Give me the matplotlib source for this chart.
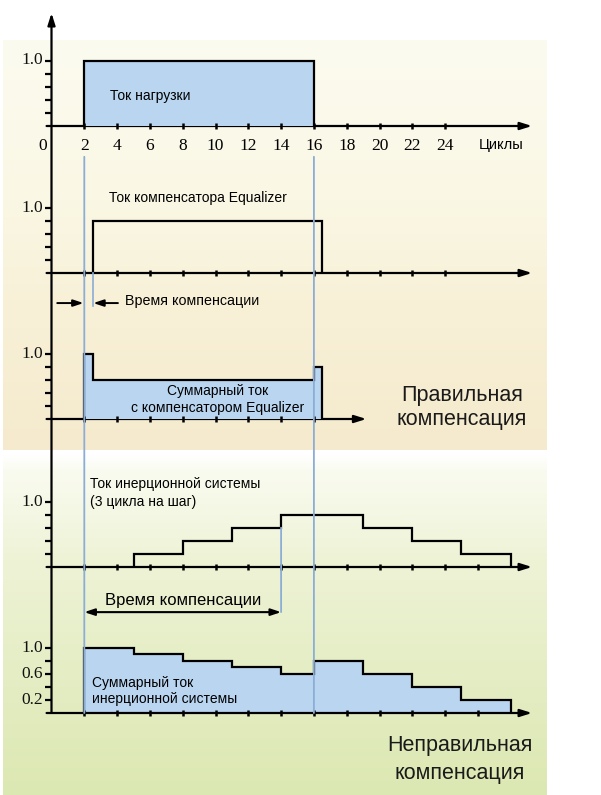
import numpy as np
import matplotlib
matplotlib.use("Agg")
import matplotlib.pyplot as plt
from matplotlib.patches import ConnectionPatch

# --- data (cycles on x, current in units of load current on y) ---
ticks_short = [2, 4, 6, 8, 10, 12, 14, 16, 18, 20, 22, 24]
ticks_long = [2, 4, 6, 8, 10, 12, 14, 16, 18, 20, 22, 24, 26]
ticks_eq_sum = [2, 4, 6, 8, 10, 12, 14, 16]
y_tick_vals = [0.2, 0.4, 0.6, 0.8, 1.0]

load_edges = [2, 16]
load_vals = [1.0]

eq_edges = [2.5, 16.5]
eq_vals = [0.8]

sum_eq_edges = [2, 2.5, 16, 16.5]
sum_eq_vals = [1.0, 0.6, 0.8]

inert_edges = [5, 8, 11, 14, 19, 22, 25, 28]
inert_vals = [0.2, 0.4, 0.6, 0.8, 0.6, 0.4, 0.2]

sum_in_edges = [2, 5, 8, 11, 14, 16, 19, 22, 25, 28]
sum_in_vals = [1.0, 0.9, 0.8, 0.7, 0.6, 0.8, 0.6, 0.4, 0.2]

comp_eq = (2, 2.5)      # compensation time, Equalizer
comp_inert = (2, 14)    # compensation time, inertial system
load_on_off = (2, 16)

# --- layout ---
W, H = 601, 795
X0, PX_CYC, PX_UNIT = 51.5, 16.4, 65.5
XMAX = 30
YLO, YHI = -1.0, 1.9
baselines = [126, 273, 419, 567, 713]

SERIF = "Liberation Serif"
SANS = "Liberation Sans"
FILL = "#b9d5f0"
BLUE = "#8badd6"

fig = plt.figure(figsize=(W / 100, H / 100), dpi=100)

# background bands
bg = fig.add_axes([0, 0, 1, 1], zorder=-5)
bg.set_xlim(0, W)
bg.set_ylim(H, 0)
bg.axis("off")


def gradient(stops, cols, y0, y1):
    rows = np.arange(y0, y1)
    cols = np.array(cols, dtype=float) / 255
    img = np.stack([np.interp(rows, stops, cols[:, k]) for k in range(3)], axis=1)
    return img[:, None, :]


top_img = gradient([40, 200, 300, 450],
                   [(252, 251, 240), (250, 247, 228), (248, 241, 216), (245, 234, 205)], 40, 450)
bot_img = gradient([455, 470, 560, 680, 795],
                   [(255, 255, 255), (250, 251, 240), (238, 243, 214), (228, 237, 195), (220, 232, 178)],
                   455, 795)
bg.imshow(top_img, extent=[3, 547, 450, 40], aspect="auto", interpolation="bilinear")
bg.imshow(bot_img, extent=[3, 547, 795, 455], aspect="auto", interpolation="bilinear")


def panel(base):
    left = X0 / W
    width = XMAX * PX_CYC / W
    bottom = 1 - (base - YLO * PX_UNIT) / H
    height = (YHI - YLO) * PX_UNIT / H
    ax = fig.add_axes([left, bottom, width, height])
    ax.set_xlim(0, XMAX)
    ax.set_ylim(YLO, YHI)
    ax.axis("off")
    return ax


def x_axis(ax, end, ticks, z=1):
    ax.annotate("", xy=(end, 0), xytext=(-0.3, 0), annotation_clip=False, zorder=z,
                arrowprops=dict(arrowstyle="-|>,head_length=0.7,head_width=0.22",
                                color="k", lw=1.6, shrinkA=0, shrinkB=0))
    ax.plot(ticks, np.zeros(len(ticks)), ls="", marker="|", ms=4.5, mew=1.8,
            color="k", zorder=5, clip_on=False)


def y_axis_ticks(ax, labels):
    ax.plot(np.zeros(len(y_tick_vals)), y_tick_vals, ls="", marker=0, ms=4, mew=1.6,
            color="k", clip_on=False)
    for v in labels:
        ax.text(-0.5, v, f"{v:.1f}", ha="right", va="center", fontsize=12.5,
                family=SERIF, color="#111111")


axes = [panel(b) for b in baselines]
ax1, ax2, ax3, ax4, ax5 = axes

# panel 1: load current
ax1.stairs(load_vals, load_edges, baseline=0, fill=True, color=FILL, zorder=2)
ax1.stairs(load_vals, load_edges, baseline=0, color="k", lw=1.6, zorder=3)
x_axis(ax1, 29.3, ticks_short)
y_axis_ticks(ax1, [1.0])
ax1.text(-0.55, -0.3, "0", ha="center", va="center", fontsize=12.5, family=SERIF)
for c in ticks_short:
    ax1.text(c, -0.3, str(c), ha="center", va="center", fontsize=12.5, family=SERIF)
ax1.text(27.4, -0.29, "Циклы", ha="center", va="center", fontsize=10.5, family=SANS)
ax1.text(6.0, 0.46, "Ток нагрузки", ha="center", va="center", fontsize=10, family=SANS)

# panel 2: Equalizer current
ax2.stairs(eq_vals, eq_edges, baseline=0, color="k", lw=1.6, zorder=3)
x_axis(ax2, 29.3, ticks_short)
y_axis_ticks(ax2, [1.0])
ax2.text(8.9, 1.15, "Ток компенсатора Equalizer", ha="center", va="center",
         fontsize=10, family=SANS)
ax2.plot([comp_eq[1], comp_eq[1]], [0, -0.5], color=BLUE, lw=1.2, clip_on=False, zorder=6)

# panel 3: total current with Equalizer
ax3.stairs(sum_eq_vals, sum_eq_edges, baseline=0, fill=True, color=FILL, zorder=2)
ax3.stairs(sum_eq_vals, sum_eq_edges, baseline=0, color="k", lw=1.6, zorder=3)
x_axis(ax3, 19.2, ticks_eq_sum)
y_axis_ticks(ax3, [1.0])
ax3.text(10.1, 0.43, "Суммарный ток", ha="center", va="center", fontsize=10, family=SANS)
ax3.text(10.1, 0.17, "с компенсатором Equalizer", ha="center", va="center",
         fontsize=10, family=SANS)
arr = dict(arrowstyle="-|>,head_length=0.6,head_width=0.2", color="k", lw=1.4,
           shrinkA=0, shrinkB=0)
ax3.annotate("", xy=(comp_eq[0] - 0.05, 1.77), xytext=(0.35, 1.77),
             arrowprops=arr, annotation_clip=False)
ax3.annotate("", xy=(comp_eq[1] + 0.05, 1.77), xytext=(4.05, 1.77),
             arrowprops=arr, annotation_clip=False)
ax3.text(4.5, 1.80, "Время компенсации", ha="left", va="center", fontsize=10.3, family=SANS)

# panel 4: inertial system current
ax4.stairs(inert_vals, inert_edges, baseline=0, color="k", lw=1.6, zorder=3)
x_axis(ax4, 29.3, ticks_long)
y_axis_ticks(ax4, [1.0])
ax4.text(2.35, 1.26, "Ток инерционной системы", ha="left", va="center",
         fontsize=10, family=SANS)
ax4.text(2.35, 1.0, "(3 цикла на шаг)", ha="left", va="center", fontsize=10, family=SANS)

# panel 5: total current with inertial system
ax5.stairs(sum_in_vals, sum_in_edges, baseline=0, fill=True, color=FILL, zorder=2)
ax5.stairs(sum_in_vals, sum_in_edges, baseline=0, color="k", lw=1.6, zorder=3)
x_axis(ax5, 29.3, ticks_long, z=4)
y_axis_ticks(ax5, [1.0, 0.6, 0.2])
ax5.text(2.5, 0.46, "Суммарный ток", ha="left", va="center", fontsize=10, family=SANS)
ax5.text(2.5, 0.215, "инерционной системы", ha="left", va="center", fontsize=10, family=SANS)
ax5.annotate("", xy=(comp_inert[1], 1.54), xytext=(comp_inert[0], 1.54),
             annotation_clip=False,
             arrowprops=dict(arrowstyle="<|-|>,head_length=0.6,head_width=0.2", color="k",
                             lw=1.5, shrinkA=0, shrinkB=0))
ax5.text(sum(comp_inert) / 2, 1.71, "Время компенсации", ha="center", va="center",
         fontsize=12, family=SANS)

# main vertical axis, shared by all panels
fig.add_artist(ConnectionPatch(xyA=(0, 0), coordsA=ax5.transData,
                               xyB=(0, 1.725), coordsB=ax1.transData,
                               arrowstyle="-|>,head_length=0.7,head_width=0.22",
                               color="k", lw=1.6, shrinkA=0, shrinkB=0, zorder=4))

# blue guide lines at load switch on / off and end of inertial compensation
for c in load_on_off:
    fig.add_artist(ConnectionPatch(xyA=(c, -0.47), coordsA=ax1.transData,
                                   xyB=(c, 0), coordsB=ax5.transData,
                                   color=BLUE, lw=1.3, zorder=6))
fig.add_artist(ConnectionPatch(xyA=(comp_inert[1], 0.6), coordsA=ax4.transData,
                               xyB=(comp_inert[1], 1.54), coordsB=ax5.transData,
                               color=BLUE, lw=1.3, zorder=6))

# section captions
fig.text(462 / W, 1 - 395 / H, "Правильная", ha="center", va="center",
         fontsize=15.5, family=SANS, color="#1a1a1a")
fig.text(462 / W, 1 - 420 / H, "компенсация", ha="center", va="center",
         fontsize=15.5, family=SANS, color="#1a1a1a")
fig.text(460 / W, 1 - 745 / H, "Неправильная", ha="center", va="center",
         fontsize=15.5, family=SANS, color="#1a1a1a")
fig.text(460 / W, 1 - 773 / H, "компенсация", ha="center", va="center",
         fontsize=15.5, family=SANS, color="#1a1a1a")

fig.savefig("out.png", dpi=100)
